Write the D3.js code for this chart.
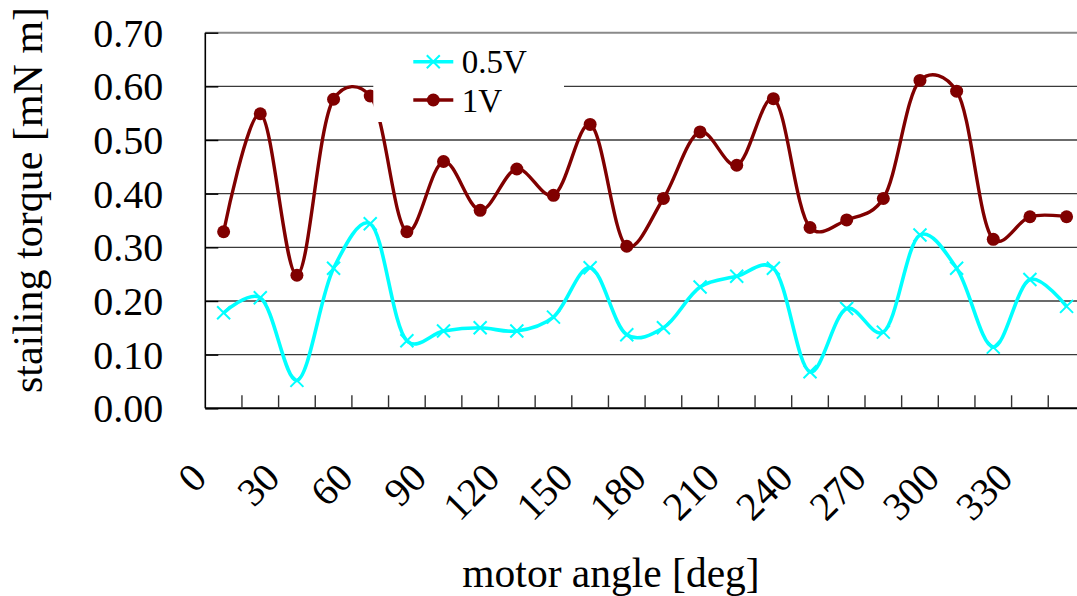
<!DOCTYPE html>
<html>
<head>
<meta charset="utf-8">
<script src="https://cdn.jsdelivr.net/npm/d3@7/dist/d3.min.js"></script>
<style>
  html, body { margin: 0; padding: 0; background: #fff; }
  svg { display: block; font-family: "Liberation Serif", "Times New Roman", serif; }
</style>
</head>
<body>
<svg id="chart" width="1077" height="596"></svg>
<script>
// Motor angle categories (deg), 15 degree steps
const angles = [0, 15, 30, 45, 60, 75, 90, 105, 120, 135, 150, 165,
                180, 195, 210, 225, 240, 255, 270, 285, 300, 315, 330, 345];
// Angles that carry a tick label
const labelAngles = [0, 30, 60, 90, 120, 150, 180, 210, 240, 270, 300, 330];
// Stalling torque [mN m] at 0.5 V
const torque05V = [0.178, 0.206, 0.052, 0.261, 0.344, 0.126, 0.144, 0.150,
                   0.144, 0.170, 0.262, 0.137, 0.150, 0.226, 0.246, 0.261,
                   0.068, 0.186, 0.142, 0.323, 0.261, 0.114, 0.240, 0.190];
// Stalling torque [mN m] at 1 V
const torque1V = [0.329, 0.549, 0.248, 0.576, 0.582, 0.329, 0.460, 0.369,
                  0.446, 0.397, 0.529, 0.302, 0.391, 0.515, 0.453, 0.577,
                  0.337, 0.351, 0.391, 0.611, 0.591, 0.315, 0.357, 0.357];
const yTicks = [0, 0.1, 0.2, 0.3, 0.4, 0.5, 0.6, 0.7];
const seriesNames = ["0.5V", "1V"];

const svg = d3.select("#chart");

const plotLeft = 205.3, plotRight = 1084.9, plotTop = 32.7, plotBottom = 408.3;

const x = d3.scaleBand().domain(angles).range([plotLeft, plotRight]).padding(0);
const y = d3.scaleLinear().domain([0, 0.7]).range([plotBottom, plotTop]);
const cx = d => x(d) + x.bandwidth() / 2;

// horizontal gridlines
svg.append("g").selectAll("line")
  .data(yTicks.filter(v => v > 0))
  .join("line")
  .attr("x1", plotLeft).attr("x2", plotRight)
  .attr("y1", d => y(d)).attr("y2", d => y(d))
  .attr("stroke", d => d === 0.7 ? "#8a8a8a" : "#3a3a3a")
  .attr("stroke-width", d => d === 0.7 ? 2 : 1.4);

// y axis: line, inward ticks, labels
const yAxis = d3.axisLeft(y).tickValues(yTicks).tickFormat(d3.format(".2f"))
  .tickSize(-13).tickPadding(55);
const gy = svg.append("g").attr("transform", `translate(${plotLeft},0)`).call(yAxis);
gy.select(".domain").attr("stroke", "#000").attr("stroke-width", 1.6)
  .attr("d", `M0,${plotTop}V${plotBottom}`);
gy.selectAll(".tick line").attr("stroke", "#000").attr("stroke-width", 1.4);
gy.selectAll(".tick text").attr("fill", "#000")
  .style("font-size", "40px").style("font-family", "Liberation Serif, Times New Roman, serif")
  .attr("x", -42).attr("dy", "0.34em");

// x axis: baseline, category-boundary ticks pointing up
const gx = svg.append("g");
gx.append("line").attr("x1", plotLeft).attr("x2", plotRight)
  .attr("y1", plotBottom).attr("y2", plotBottom)
  .attr("stroke", "#000").attr("stroke-width", 2);
gx.selectAll("line.tk")
  .data(angles.slice(1).concat(["end"]))
  .join("line").attr("class", "tk")
  .attr("x1", d => d === "end" ? plotRight : x(d))
  .attr("x2", d => d === "end" ? plotRight : x(d))
  .attr("y1", plotBottom).attr("y2", plotBottom - 13)
  .attr("stroke", "#333").attr("stroke-width", 1.4);

// rotated category labels
gx.selectAll("text")
  .data(labelAngles)
  .join("text")
  .attr("transform", d => `translate(${cx(d) - 15},480) rotate(-45)`)
  .attr("text-anchor", "end")
  .style("font-size", "40px")
  .text(d => d);

// series lines
const line = d3.line()
  .x((d, i) => cx(angles[i]))
  .y(d => y(d))
  .curve(d3.curveCatmullRom.alpha(0.25));

svg.append("path").datum(torque05V)
  .attr("d", line).attr("fill", "none")
  .attr("stroke", "#00ffff").attr("stroke-width", 3.6);

svg.append("path").datum(torque1V)
  .attr("d", line).attr("fill", "none")
  .attr("stroke", "#800000").attr("stroke-width", 3.4);

// markers: cross for 0.5V, dot for 1V
const xm = 6.5;
svg.append("g").selectAll("path")
  .data(torque05V)
  .join("path")
  .attr("d", (d, i) => {
    const px = cx(angles[i]), py = y(d);
    return `M${px - xm},${py - xm}L${px + xm},${py + xm}M${px - xm},${py + xm}L${px + xm},${py - xm}`;
  })
  .attr("stroke", "#00ffff").attr("stroke-width", 2);

svg.append("g").selectAll("circle")
  .data(torque1V)
  .join("circle")
  .attr("cx", (d, i) => cx(angles[i]))
  .attr("cy", d => y(d))
  .attr("r", 6.5)
  .attr("fill", "#800000");

// legend
const lg = svg.append("g");
lg.append("rect").attr("x", 373.3).attr("y", 36).attr("width", 190.7).attr("height", 86)
  .attr("fill", "#fff");
const legendRows = [
  { name: seriesNames[0], color: "#00ffff", y: 61.7, marker: "cross", base: 73.3 },
  { name: seriesNames[1], color: "#800000", y: 100, marker: "dot", base: 112.3 }
];
legendRows.forEach(r => {
  lg.append("line").attr("x1", 413.3).attr("x2", 453.3).attr("y1", r.y).attr("y2", r.y)
    .attr("stroke", r.color).attr("stroke-width", 3.6);
  if (r.marker === "cross") {
    lg.append("path")
      .attr("d", `M${433.3 - xm},${r.y - xm}L${433.3 + xm},${r.y + xm}M${433.3 - xm},${r.y + xm}L${433.3 + xm},${r.y - xm}`)
      .attr("stroke", r.color).attr("stroke-width", 2);
  } else {
    lg.append("circle").attr("cx", 433.3).attr("cy", r.y).attr("r", 6.5).attr("fill", r.color);
  }
  lg.append("text").attr("x", 461.7).attr("y", r.base)
    .style("font-size", "33px").text(r.name);
});

// axis titles
svg.append("text")
  .attr("transform", "translate(42,200) rotate(-90)")
  .attr("text-anchor", "middle")
  .style("font-size", "42px")
  .text("stailing torque [mN m]");

svg.append("text")
  .attr("x", 611).attr("y", 587)
  .attr("text-anchor", "middle")
  .style("font-size", "41.5px")
  .text("motor angle [deg]");
</script>
</body>
</html>
